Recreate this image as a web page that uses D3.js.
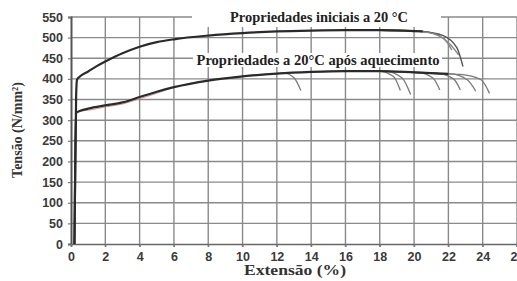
<!DOCTYPE html>
<html><head><meta charset="utf-8">
<script src="https://cdn.jsdelivr.net/npm/d3@7/dist/d3.min.js"></script>
<style>
html,body{margin:0;padding:0;background:#fff;}
svg{display:block;}
</style></head>
<body>
<svg id="c" width="517" height="281"></svg>
<script>
// ---- data ----
const xTicks = [0,2,4,6,8,10,12,14,16,18,20,22,24,26];
const yTicks = [0,50,100,150,200,250,300,350,400,450,500,550];

// base curve: initial properties at 20 °C
const initialExt    = [0.2, 0.25, 0.3, 0.35, 0.5, 1, 1.5, 2, 3, 4, 5, 6, 8, 10, 12, 14, 16, 18, 20, 20.5];
const initialStress = [0, 200, 360, 398, 405, 418, 431, 442, 462, 478, 489, 496, 505, 511, 515, 517, 518, 518, 516, 515];
// fracture tails (initial)
const initialTails = [
  [[20.5,515],[21.4,506],[22.1,484],[22.6,458]],
  [[20.5,515],[21.7,505],[22.5,475],[22.85,430]],
  [[20.5,514],[21.3,507],[21.9,490],[22.2,470]]
];

// base curve: 20 °C after heating
const heatedExt    = [0.2, 0.25, 0.3, 0.5, 1, 2, 3, 4, 5, 6, 8, 10, 12, 14, 16, 18, 20, 22];
const heatedStress = [0, 200, 318, 322, 328, 336, 343, 356, 369, 380, 396, 406, 413, 417, 419, 419, 416, 412];
// fracture tails (after heating)
const heatedTails = [
  [[12.4,414],[13.0,403],[13.4,372]],
  [[17.9,419],[18.8,406],[19.2,372]],
  [[18.3,419],[19.3,402],[19.8,362]],
  [[20.2,416],[21.1,402],[21.5,373]],
  [[21.3,414],[22.3,400],[22.7,373]],
  [[22.1,412],[23.1,398],[23.6,370]],
  [[22.7,411],[23.9,398],[24.4,365]]
];

const xTitle = "Extensão (%)";
const yTitle = "Tensão (N/mm²)";
const label1 = "Propriedades iniciais a 20 °C";
const label2 = "Propriedades a 20°C após aquecimento";

// ---- drawing ----
const svg = d3.select("#c");
const x = d3.scaleLinear().domain([0,26]).range([71,517]);
const y = d3.scaleLinear().domain([0,550]).range([244,17]);

const grid = svg.append("g");
grid.selectAll("line.h").data(yTicks.slice(1)).join("line")
  .attr("x1", x(0)).attr("x2", x(26)).attr("y1", d=>y(d)).attr("y2", d=>y(d))
  .attr("stroke","#8a8a8a").attr("stroke-width",1.4);
grid.selectAll("line.v").data(xTicks.slice(1)).join("line")
  .attr("x1", d=>x(d)).attr("x2", d=>x(d)).attr("y1", y(0)+3).attr("y2", y(550))
  .attr("stroke","#8a8a8a").attr("stroke-width",1.4);

// axes
const yAxis = d3.axisLeft(y).tickValues(yTicks).tickSize(3).tickPadding(5);
const xAxis = d3.axisBottom(x).tickValues(xTicks).tickSize(3).tickPadding(5);
const gy = svg.append("g").attr("transform",`translate(${x(0)},0)`).call(yAxis);
const gx = svg.append("g").attr("transform",`translate(0,${y(0)})`).call(xAxis);
[gx,gy].forEach(g=>{
  g.select(".domain").attr("stroke","#666").attr("stroke-width",1.6);
  g.selectAll(".tick line").attr("stroke","#777").attr("stroke-width",1.2);
  g.selectAll(".tick text").attr("fill","#3a3a3a")
    .style("font-family","'Liberation Sans', Arial, sans-serif")
    .style("font-weight","bold").style("font-size","12.5px");
});
gy.select(".domain").attr("stroke","#555").attr("stroke-width",2);

// label boxes (white backgrounds)
svg.append("rect").attr("x",192).attr("y",0).attr("width",249).attr("height",27).attr("fill","#fff");
svg.append("rect").attr("x",193).attr("y",53).attr("width",249).attr("height",14).attr("fill","#fff");

const line = d3.line().x(d=>x(d[0])).y(d=>y(d[1])).curve(d3.curveMonotoneX);

function basePts(ext, st, upTo){
  const pts = [];
  ext.forEach((e,i)=>{ if(e < upTo - 1e-9) pts.push([e, st[i]]); });
  return pts;
}

// tails (lighter)
initialTails.forEach((t,i)=>{
  svg.append("path").attr("d", line(basePts(initialExt, initialStress, t[0][0]).slice(-2).concat(t)))
    .attr("fill","none").attr("stroke", i===1?"#555":"#888").attr("stroke-width",1.4);
});
heatedTails.forEach((t,i)=>{
  svg.append("path").attr("d", line(basePts(heatedExt, heatedStress, t[0][0]).slice(-2).concat(t)))
    .attr("fill","none").attr("stroke", "#7a7a7a").attr("stroke-width",1.3);
});

// pinkish specimen line (after heating)
svg.append("path").attr("d", line(basePts(heatedExt, heatedStress.map((v,i)=> i>3 && i<9 ? v-4 : v), 12)))
  .attr("fill","none").attr("stroke","#c99").attr("stroke-width",1);

// main curves
svg.append("path").attr("d", line(basePts(initialExt, initialStress, 21)))
  .attr("fill","none").attr("stroke","#2a2a2a").attr("stroke-width",2.2);
svg.append("path").attr("d", line(basePts(heatedExt, heatedStress, 23)))
  .attr("fill","none").attr("stroke","#2a2a2a").attr("stroke-width",2.2);

// labels
const serif = "'Liberation Serif', 'Times New Roman', serif";
svg.append("text").attr("x",319).attr("y",22).attr("text-anchor","middle")
  .style("font-family",serif).style("font-weight","bold").style("font-size","14px").attr("fill","#222")
  .attr("textLength",178).attr("lengthAdjust","spacingAndGlyphs")
  .text(label1);
svg.append("text").attr("x",318).attr("y",65).attr("text-anchor","middle")
  .style("font-family",serif).style("font-weight","bold").style("font-size","14px").attr("fill","#222")
  .attr("textLength",243).attr("lengthAdjust","spacingAndGlyphs")
  .text(label2);

// axis titles
svg.append("text").attr("x",295).attr("y",275).attr("text-anchor","middle")
  .style("font-family",serif).style("font-weight","bold").style("font-size","14px").attr("fill","#333")
  .attr("textLength",102).attr("lengthAdjust","spacingAndGlyphs")
  .text(xTitle);
svg.append("text").attr("transform","translate(22,130) rotate(-90)").attr("text-anchor","middle")
  .style("font-family",serif).style("font-weight","bold").style("font-size","14px").attr("fill","#333")
  .text(yTitle);
</script>
</body></html>
